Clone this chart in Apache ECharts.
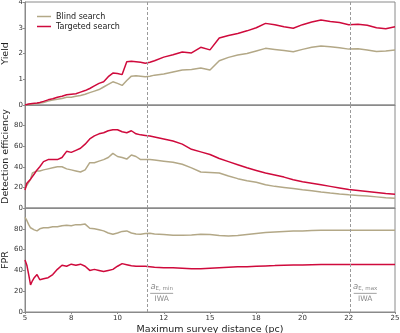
<!DOCTYPE html>
<html>
<head>
<meta charset="utf-8">
<script src="https://cdn.jsdelivr.net/npm/echarts@6/dist/echarts.min.js"></script>
<style>html,body{margin:0;padding:0;background:#fff;}#chart{width:400px;height:333px;}</style>
</head>
<body>
<div id="chart"></div>
<script>
const distance = [5, 5.1, 5.2, 5.3, 5.4, 5.5, 5.65, 5.8, 6, 6.25, 6.5, 6.75, 7, 7.25, 7.5, 7.75, 8, 8.25, 8.5, 8.75, 9, 9.25, 9.5, 9.75, 10, 10.25, 10.5, 10.75, 11, 11.25, 11.5, 11.75, 12, 12.5, 13, 13.5, 14, 14.5, 15, 15.5, 16, 16.5, 17, 17.5, 18, 18.5, 19, 19.5, 20, 20.5, 21, 21.5, 22, 22.5, 23, 23.5, 24, 24.5, 25];

const yieldBlind = [0, 0.01, 0.02, 0.03, 0.04, 0.05, 0.06, 0.08, 0.1, 0.15, 0.19, 0.22, 0.25, 0.3, 0.3, 0.34, 0.37, 0.42, 0.48, 0.54, 0.6, 0.7, 0.8, 0.9, 0.84, 0.76, 0.95, 1.12, 1.14, 1.12, 1.1, 1.12, 1.16, 1.2, 1.28, 1.36, 1.38, 1.44, 1.36, 1.72, 1.85, 1.94, 2.0, 2.1, 2.2, 2.16, 2.12, 2.07, 2.16, 2.24, 2.29, 2.26, 2.22, 2.17, 2.18, 2.14, 2.08, 2.1, 2.14];
const yieldTargeted = [0, 0.02, 0.04, 0.05, 0.06, 0.07, 0.08, 0.1, 0.14, 0.2, 0.24, 0.3, 0.34, 0.4, 0.42, 0.44, 0.5, 0.56, 0.64, 0.74, 0.84, 0.9, 1.1, 1.24, 1.22, 1.18, 1.68, 1.7, 1.68, 1.66, 1.62, 1.66, 1.72, 1.86, 1.95, 2.06, 2.02, 2.24, 2.14, 2.6, 2.7, 2.78, 2.88, 3.0, 3.17, 3.12, 3.04, 2.98, 3.12, 3.22, 3.3, 3.24, 3.2, 3.12, 3.14, 3.1, 3.0, 2.96, 3.04];

const effBlind = [19, 22, 25, 28, 34, 35, 36, 36, 37, 38, 39, 40, 40, 38, 37, 36, 35, 37, 44, 44, 45.5, 47, 49, 53, 50, 49, 47.5, 51.5, 50, 47, 47, 47, 46.5, 45.5, 44.5, 42.5, 39, 35, 34.5, 34, 31, 28.5, 26.5, 25, 22.5, 21, 20, 19, 17.8, 16.8, 15.5, 14.5, 13.6, 12.8, 12.2, 11.6, 10.8, 10, 9.4];
const effTargeted = [17.5, 24, 25, 28, 29, 33, 37, 40, 45, 47, 47, 47, 49, 55, 54, 56, 58, 62, 67, 70, 72, 73, 75, 76, 76, 74, 73, 75, 72, 71, 70.5, 70, 69, 67, 65, 62, 57, 54.5, 52, 48, 45, 42, 39, 36.5, 34, 32, 30, 27.5, 25.5, 24, 22.5, 21, 19.5, 18, 17, 16, 15, 14, 13.3];

const fprBlind = [91, 88, 84, 81, 80, 79, 78, 80, 81, 81, 82, 82, 83, 83.5, 83, 84, 84, 84.5, 80.5, 80, 79, 78, 76, 74.7, 76, 77.5, 78, 76, 75, 74.7, 75.5, 75.7, 75, 74.5, 73.8, 73.8, 74, 74.7, 74.5, 73.5, 73, 73.5, 74.5, 75.5, 76.4, 77, 77.5, 77.8, 78, 78.3, 78.5, 78.6, 78.6, 78.6, 78.6, 78.6, 78.6, 78.6, 78.6];
const fprTargeted = [50, 45, 36, 26, 30, 33, 36, 31, 32, 33, 36, 41, 45, 44, 46, 45, 46, 44, 40, 41, 40, 39, 40, 41, 44, 46.5, 45.5, 44.5, 44, 44, 44, 43.5, 43, 42.5, 42.5, 42, 41.5, 41.5, 42, 42.5, 43, 43.5, 43.5, 44, 44.3, 44.6, 45, 45.2, 45.3, 45.5, 45.6, 45.6, 45.6, 45.6, 45.6, 45.6, 45.6, 45.6, 45.6];

const xTickLabels = ['5', '8', '10', '12', '15', '18', '20', '22', '25'];
const aEmin = 11.63;
const aEmax = 22.6;

const BLIND = '#b3a887';
const TARGET = '#cf0a3c';
const SPINE = '#8a8a8a';
const FONT = 'DejaVu Sans';

const pairs = arr => distance.map((d, i) => [d, arr[i]]);

const grids = [
  {left: 25, top: 2, width: 370, height: 103},
  {left: 25, top: 105, width: 370, height: 103},
  {left: 25, top: 208, width: 370, height: 104}
].map(g => Object.assign(g, {show: true, borderColor: SPINE, borderWidth: 1, backgroundColor: 'transparent', containLabel: false, outerBoundsMode: 'none'}));

function xAxisFor(i) {
  const bottom = i === 2;
  return {
    type: 'value', gridIndex: i, min: 5, max: 25, interval: 2.5,
    axisLine: {show: true, lineStyle: {color: SPINE, width: 1}},
    axisTick: {show: bottom, length: 2, lineStyle: {color: SPINE}},
    splitLine: {show: false},
    axisLabel: {
      show: bottom, fontSize: 7, color: '#333', fontFamily: FONT, margin: 3,
      formatter: (v) => xTickLabels[Math.round((v - 5) / 2.5)]
    },
    name: bottom ? 'Maximum survey distance (pc)' : '',
    nameLocation: 'middle', nameGap: 13, nameMoveOverlap: false,
    nameTextStyle: {fontSize: 9.5, color: '#222', fontFamily: FONT}
  };
}

function yAxisFor(i, name, max, interval, hideTop) {
  return {
    type: 'value', gridIndex: i, min: 0, max: max, interval: interval,
    name: name, nameLocation: 'middle', nameRotate: 90, nameGap: 14, nameMoveOverlap: false,
    nameTextStyle: {fontSize: 9.5, color: '#222', fontFamily: FONT},
    axisLine: {show: true, lineStyle: {color: SPINE, width: 1}},
    axisTick: {show: true, length: 2, lineStyle: {color: SPINE}},
    splitLine: {show: false},
    axisLabel: {
      fontSize: 7, color: '#333', fontFamily: FONT, margin: 2,
      showMaxLabel: !hideTop
    }
  };
}

const dashLines = {
  silent: true, symbol: ['none', 'none'],
  label: {show: false},
  lineStyle: {type: [3, 2], color: '#9a9a9a', width: 1},
  data: [{xAxis: aEmin}, {xAxis: aEmax}]
};

const annot = {
  symbol: 'circle', symbolSize: 1,
  itemStyle: {color: 'rgba(0,0,0,0)'},
  label: {
    show: true, position: 'right', distance: 2, color: '#8a8a8a',
    fontFamily: FONT,
    formatter: p => '{a|a}{s|E, ' + p.name + '}\n{bar| }\n{i|IWA}',
    rich: {
      a: {fontSize: 8.5, fontStyle: 'italic', color: '#8a8a8a', fontFamily: FONT, lineHeight: 9, align: 'center'},
      s: {fontSize: 5.5, color: '#8a8a8a', fontFamily: FONT, lineHeight: 9, verticalAlign: 'bottom', padding: [3, 0, 0, 0], align: 'center'},
      bar: {fontSize: 1, width: 23, height: 0.8, lineHeight: 3, backgroundColor: '#8a8a8a', align: 'center'},
      i: {fontSize: 7.5, color: '#8a8a8a', fontFamily: FONT, lineHeight: 9, align: 'center'}
    }
  },
  data: [{name: 'min', coord: [aEmin, 18]}, {name: 'max', coord: [aEmax, 18]}]
};

function line(name, color, i, arr, extra) {
  return Object.assign({
    name: name, type: 'line', xAxisIndex: i, yAxisIndex: i,
    data: pairs(arr), showSymbol: false, symbol: 'none',
    lineStyle: {color: color, width: 1.5}, itemStyle: {color: color},
    animation: false, silent: true, z: name === 'Targeted search' ? 3 : 2
  }, extra || {});
}

const option = {
  animation: false,
  grid: grids,
  xAxis: [xAxisFor(0), xAxisFor(1), xAxisFor(2)],
  yAxis: [
    yAxisFor(0, 'Yield', 4, 1, false),
    yAxisFor(1, 'Detection efficiency', 100, 20, true),
    yAxisFor(2, 'FPR', 100, 20, true)
  ],
  legend: {
    data: ['Blind search', 'Targeted search'],
    orient: 'vertical', left: 32, top: 7,
    icon: 'rect', itemWidth: 14, itemHeight: 1.5, itemGap: 1,
    textStyle: {fontSize: 8, color: '#222', fontFamily: FONT, lineHeight: 9},
    selectedMode: false
  },
  series: [
    line('Blind search', BLIND, 0, yieldBlind, {markLine: dashLines}),
    line('Targeted search', TARGET, 0, yieldTargeted),
    line('Blind search', BLIND, 1, effBlind, {markLine: dashLines}),
    line('Targeted search', TARGET, 1, effTargeted),
    line('Blind search', BLIND, 2, fprBlind, {markLine: dashLines, markPoint: annot}),
    line('Targeted search', TARGET, 2, fprTargeted)
  ]
};

const chart = echarts.init(document.getElementById('chart'), null, {renderer: 'canvas'});
chart.setOption(option);
</script>
</body>
</html>
